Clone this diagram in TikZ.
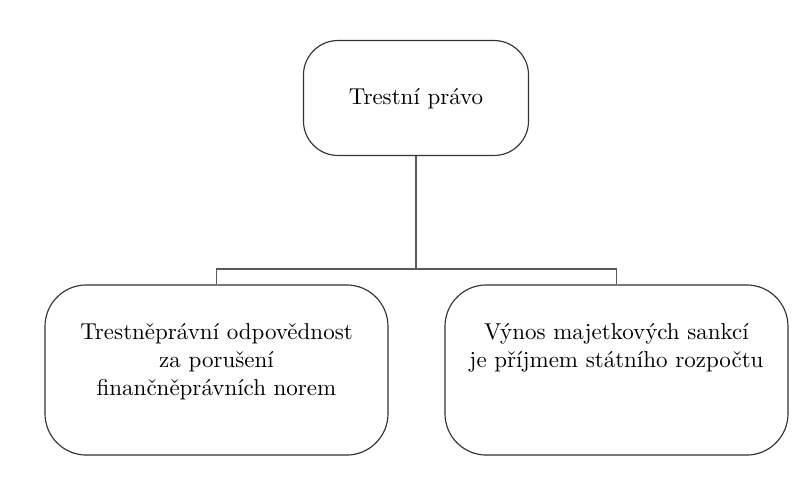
\documentclass[tikz,border=0pt]{standalone}
\usepackage{fontspec}
\begin{document}
\begin{tikzpicture}[x=0.435pt, y=-0.435pt,
  box/.style={draw=black!80, line width=0.5pt, rectangle, inner sep=0pt},
  topbox/.style={box, rounded corners=15pt, minimum width=97.9pt, minimum height=50pt},
  leafbox/.style={box, rounded corners=18pt, minimum width=149.2pt, minimum height=74pt},
  label/.style={align=center, inner sep=0pt, font=\normalsize},
  link/.style={draw=black!65, line width=0.6pt}]
  % canvas
  \path[fill=white] (0,0) rectangle (800,492);
  \useasboundingbox (0,0) rectangle (800,492);

  % boxes
  \node[topbox]  (root)  at (416,98)    {};
  \node[leafbox] (left)  at (216.5,370) {};
  \node[leafbox] (right) at (616.5,370) {};

  % texts (base anchor = baseline of the last line)
  \node[label, anchor=base] (rootText)  at (416,104) {Trestní právo};
  \node[label, anchor=base] (leftText)  at (216.5,395)
    {Trestněprávní odpovědnost\\za porušení\\finančněprávních norem};
  \node[label, anchor=base] (rightText) at (616.5,367)
    {Výnos majetkových sankcí\\je příjmem státního rozpočtu};

  % connectors
  \coordinate (bus) at (416,269);
  \draw[link] (root.south) -- (bus);
  \draw[link] (left.north) |- (bus) -| (right.north);
\end{tikzpicture}
\end{document}
